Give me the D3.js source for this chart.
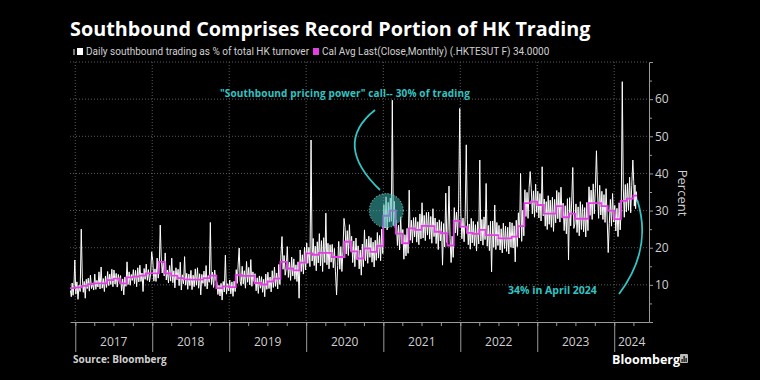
<!DOCTYPE html>
<html>
<head>
<meta charset="utf-8">
<script src="https://cdn.jsdelivr.net/npm/d3@7"></script>
<style>
body { margin: 0; background: #000; }
svg { display: block; }
</style>
</head>
<body>
<div class="svg-div"></div>
<script>
// southbound share of HK turnover
firstMonth = "2016-12"
dataStart = "2016-12-07"
dataEnd = "2024-04-19"

// calendar monthly average (magenta steps), Dec 2016 .. Apr 2024
monthlyAvg = [
    9.1,
    9.3, 9.7, 10.2, 10.4, 10.4, 11.3, 11.7, 10.4, 12.0, 12.2, 12.5, 13.1,
    13.1, 16.2, 13.1, 12.5, 11.8, 11.5, 11.4, 11.4, 11.8, 12.5, 9.1, 9.6,
    9.4, 12.7, 12.4, 12.4, 10.5, 10.1, 10.9, 11.7, 16.2, 14.4, 13.9, 16.0,
    18.5, 18.1, 18.6, 18.6, 17.5, 17.5, 21.6, 19.0, 17.1, 19.8, 18.9, 20.5,
    28.6, 30.0, 23.8, 21.2, 25.2, 24.8, 25.9, 25.8, 24.3, 23.9, 20.6, 27.2,
    25.7, 24.0, 23.7, 24.8, 23.4, 23.4, 22.5, 22.5, 23.0, 25.8, 32.0, 32.4,
    31.5, 29.2, 29.2, 31.2, 28.2, 29.2, 27.8, 27.8, 32.0, 32.0, 31.2, 30.0,
    27.7, 32.6, 33.2, 34.0
]

// daily readings, six per month (white line)
daily = [
    [8.5, 6.8, 10.5, 7.2, 9.8, 16.7],
    // 2017
    [7.5, 10.8, 6.1, 9.9, 8.2, 25.0], [12.1, 8.0, 10.9, 6.4, 11.5, 9.0], [11.8, 8.3, 12.6, 9.0, 10.5, 8.6],
    [12.9, 8.8, 11.2, 9.4, 13.5, 8.9], [14.8, 9.1, 11.7, 8.2, 12.4, 9.3], [13.6, 9.8, 12.9, 10.1, 14.2, 9.5],
    [14.0, 10.2, 13.1, 9.4, 12.8, 10.6], [12.5, 8.4, 11.6, 7.3, 12.1, 9.6], [16.2, 10.1, 13.5, 9.9, 12.8, 11.2],
    [14.1, 10.3, 13.9, 9.5, 14.6, 10.8], [15.3, 10.9, 13.2, 8.2, 14.4, 11.5], [15.6, 11.2, 14.1, 10.8, 12.9, 18.9],
    // 2018
    [16.5, 11.0, 14.3, 10.9, 17.2, 11.8], [14.8, 26.1, 17.5, 13.2, 15.9, 12.4], [18.6, 11.3, 14.0, 10.5, 15.2, 11.0],
    [17.2, 10.6, 13.8, 9.2, 14.6, 11.4], [14.2, 9.8, 16.1, 8.6, 12.7, 10.3], [17.6, 9.9, 13.1, 8.8, 12.9, 9.8],
    [13.9, 8.7, 12.6, 9.5, 14.3, 9.9], [14.6, 9.1, 13.0, 7.3, 12.8, 10.4], [13.7, 9.6, 15.2, 8.9, 12.5, 10.7],
    [26.8, 10.1, 13.4, 9.3, 14.0, 11.2], [10.8, 7.4, 9.9, 7.0, 10.4, 5.9], [10.9, 8.1, 18.0, 7.5, 10.3, 8.4],
    // 2019
    [11.3, 7.6, 10.8, 6.9, 11.0, 8.2], [14.1, 10.4, 15.6, 19.9, 11.0, 9.8], [15.0, 10.2, 13.8, 9.1, 16.3, 10.7],
    [14.7, 10.0, 16.8, 9.6, 13.5, 10.9], [13.0, 8.4, 11.9, 7.7, 12.4, 9.1], [12.2, 8.0, 11.5, 6.8, 12.9, 8.8],
    [13.4, 9.0, 12.1, 8.1, 13.8, 9.3], [14.8, 9.6, 13.2, 8.9, 15.5, 10.1], [18.1, 23.0, 14.2, 17.9, 12.6, 14.5],
    [20.3, 12.0, 16.1, 11.2, 17.5, 12.4], [17.0, 11.5, 15.4, 10.9, 16.2, 6.4], [19.4, 13.6, 18.1, 12.9, 20.2, 14.0],
    // 2020
    [21.3, 15.8, 20.1, 14.9, 49.0, 16.4], [22.5, 15.2, 20.4, 13.8, 21.6, 15.9], [23.8, 15.1, 21.9, 13.6, 22.7, 16.0],
    [29.3, 15.4, 21.2, 14.3, 20.8, 16.1], [20.9, 14.6, 19.8, 13.5, 7.3, 15.2], [21.7, 14.2, 20.3, 13.6, 19.0, 27.9],
    [25.4, 18.3, 24.6, 17.9, 26.2, 19.1], [23.1, 16.0, 21.8, 14.9, 22.6, 16.8], [20.5, 14.3, 19.4, 12.6, 21.0, 14.9],
    [24.8, 16.5, 22.3, 15.8, 23.1, 17.4], [22.7, 16.1, 21.5, 14.8, 22.0, 16.6], [24.1, 17.2, 23.3, 16.5, 25.0, 18.4],
    // 2021
    [31.6, 25.3, 33.7, 24.8, 32.2, 26.9], [33.4, 27.1, 59.7, 26.0, 32.5, 25.4], [27.5, 20.6, 26.1, 19.4, 28.3, 21.0],
    [24.9, 16.9, 23.5, 17.8, 25.2, 18.5], [35.5, 22.0, 27.4, 21.3, 28.1, 22.9], [28.2, 21.5, 27.0, 20.8, 29.1, 22.4],
    [32.1, 22.6, 28.7, 21.9, 29.5, 23.4], [29.6, 22.3, 28.4, 21.2, 30.5, 23.0], [28.0, 21.1, 26.9, 19.5, 27.5, 21.8],
    [27.0, 15.3, 26.5, 20.2, 34.7, 21.4], [24.3, 36.6, 22.5, 16.0, 23.1, 17.4], [30.8, 24.0, 29.6, 23.3, 31.5, 57.5],
    // 2022
    [29.1, 22.4, 28.0, 21.6, 28.5, 47.7], [27.5, 20.8, 26.4, 19.6, 27.9, 21.3], [27.1, 20.5, 26.2, 19.1, 27.0, 21.0],
    [43.6, 21.8, 27.6, 20.7, 28.3, 22.2], [37.3, 20.4, 26.0, 19.2, 27.1, 13.5], [27.2, 20.1, 31.5, 19.5, 26.8, 20.6],
    [26.0, 19.4, 25.1, 18.6, 26.6, 19.8], [25.8, 19.0, 25.5, 18.3, 26.9, 20.1], [26.7, 19.9, 25.9, 16.2, 27.4, 20.3],
    [29.4, 22.6, 40.0, 21.7, 30.1, 23.2], [35.6, 28.4, 34.9, 27.9, 36.2, 40.5], [36.0, 29.1, 35.3, 28.2, 37.1, 29.5],
    // 2023
    [35.2, 28.0, 34.6, 27.2, 41.8, 28.6], [33.1, 25.8, 32.4, 24.9, 34.0, 26.3], [32.8, 25.5, 33.6, 24.4, 33.0, 26.7],
    [35.4, 27.8, 34.9, 26.9, 36.3, 28.1], [32.0, 24.6, 31.3, 23.7, 33.2, 16.7], [33.5, 25.9, 32.8, 41.6, 25.2, 26.4],
    [31.8, 24.1, 31.0, 23.2, 32.4, 24.9], [31.6, 24.3, 30.8, 22.9, 32.2, 24.6], [36.4, 28.7, 35.5, 27.6, 37.2, 29.1],
    [35.9, 46.1, 35.0, 27.9, 36.8, 28.8], [35.2, 27.6, 34.3, 26.8, 35.9, 28.0], [18.7, 26.5, 33.0, 25.8, 34.6, 26.9],
    // 2024
    [31.4, 24.5, 30.6, 23.0, 32.1, 24.8], [30.5, 64.7, 36.1, 28.2, 37.0, 29.6], [37.3, 30.1, 39.0, 29.4, 36.8, 43.6],
    [37.8, 31.2, 36.9, 30.5, 35.1, 32.4]
]

years = [2017, 2018, 2019, 2020, 2021, 2022, 2023, 2024]
yTicks = [10, 20, 30, 40, 50, 60]

titleText = "Southbound Comprises Record Portion of HK Trading"
legendWhite = "Daily southbound trading as % of total HK turnover"
legendMagenta = "Cal Avg Last(Close,Monthly) (.HKTESUT F) 34.0000"
noteTop = "\"Southbound pricing power\" call-- 30% of trading"
noteBottom = "34% in April 2024"

const W = 760, H = 380
const teal = "#33c4c4", magenta = "#e63ee6", axisGray = "#9a9a9a", labelGray = "#d0d0d0"
const parse = d3.timeParse("%Y-%m-%d")
let t0 = parse(dataStart), t1 = parse(dataEnd)

let svg = d3.select(".svg-div").append("svg")
    .attr("width", W).attr("height", H)
    .style("background", "#000")

let x = d3.scaleTime()
    .domain([t0, new Date(2024, 5, 14)])
    .range([70, 649])
let y = d3.scaleLinear()
    .domain([0, 70])
    .range([322, 62])

// build the point lists from the arrays above
let months = d3.timeMonth.range(d3.timeParse("%Y-%m")(firstMonth), d3.timeMonth.offset(d3.timeMonth.floor(t1), 1))
let stepPts = months.map((m, i) => ({ date: m < t0 ? t0 : m, v: monthlyAvg[i] }))
stepPts.push({ date: t1, v: monthlyAvg[monthlyAvg.length - 1] })

let dailyPts = []
months.forEach((m, i) => {
    let a = m < t0 ? t0 : m
    let b = d3.timeMonth.offset(m, 1)
    if (b > t1) b = t1
    daily[i].forEach((v, k) => {
        let f = (k + 0.5) / daily[i].length
        dailyPts.push({ date: new Date(+a + (b - a) * f), v: v })
    })
})

// grid
let grid = svg.append("g").attr("class", "grid")
grid.selectAll("line.h").data(yTicks.concat([70])).join("line")
    .attr("class", "h")
    .attr("x1", 70).attr("x2", 649)
    .attr("y1", d => y(d)).attr("y2", d => y(d))
    .attr("stroke", "#5a5a5a").attr("stroke-dasharray", "1,2")
grid.selectAll("line.v").data(years).join("line")
    .attr("class", "v")
    .attr("x1", d => x(new Date(d, 0, 1))).attr("x2", d => x(new Date(d, 0, 1)))
    .attr("y1", 62).attr("y2", 322)
    .attr("stroke", "#5a5a5a").attr("stroke-dasharray", "1,2")

// x axis: long year separators + quarter ticks
let gx = svg.append("g").attr("transform", "translate(0,322)")
let quarters = d3.timeMonth.every(3).range(new Date(2017, 0, 1), new Date(2024, 6, 1))
gx.call(d3.axisBottom(x).tickValues(quarters).tickSize(4).tickSizeOuter(0).tickFormat(""))
let gxYears = gx.append("g")
gxYears.call(d3.axisBottom(x).tickValues(years.map(d => new Date(d, 0, 1))).tickSize(30).tickSizeOuter(0).tickFormat(""))
gxYears.select(".domain").remove()
gx.selectAll("path, line").attr("stroke", axisGray)
gx.selectAll("text.year").data(years).join("text")
    .attr("class", "year")
    .attr("x", d => {
        let a = x(new Date(d, 0, 1))
        let b = d === 2024 ? x.range()[1] : x(new Date(d + 1, 0, 1))
        return (a + b) / 2
    })
    .attr("y", 24)
    .attr("text-anchor", "middle")
    .attr("fill", labelGray)
    .style("font", "12px 'Open Sans', sans-serif")
    .text(d => d)

// right y axis with minor ticks
let gy = svg.append("g").attr("transform", "translate(649,0)")
gy.call(d3.axisRight(y).tickValues(yTicks).tickSize(4).tickSizeOuter(4).tickPadding(2))
let gyMinor = gy.append("g")
gyMinor.call(d3.axisRight(y).tickValues([5, 15, 25, 35, 45, 55, 65]).tickSize(3).tickFormat(""))
gyMinor.select(".domain").remove()
gy.selectAll("path, line").attr("stroke", axisGray)
gy.selectAll("text").attr("fill", labelGray).style("font", "12px 'Open Sans', sans-serif")
svg.append("text")
    .attr("transform", "translate(678,193) rotate(90)")
    .attr("text-anchor", "middle")
    .attr("fill", labelGray)
    .style("font", "13px 'Open Sans', sans-serif")
    .text("Percent")

// series
let line = d3.line().x(d => x(d.date)).y(d => y(d.v))
svg.append("path").datum(dailyPts)
    .attr("d", line)
    .attr("fill", "none").attr("stroke", "#fff").attr("stroke-width", 1)
    .attr("stroke-linejoin", "round")
svg.append("path").datum(stepPts)
    .attr("d", line.curve(d3.curveStepAfter))
    .attr("fill", "none").attr("stroke", magenta).attr("stroke-width", 1.8)

// annotations
let cx = x(new Date(2021, 0, 15)), cy = y(30)
svg.append("circle").attr("cx", cx).attr("cy", cy).attr("r", 17)
    .attr("fill", "#3bb5b0").attr("fill-opacity", 0.55)
    .attr("stroke", "#8fe3df").attr("stroke-dasharray", "1,2").attr("stroke-width", 1)
svg.append("path")
    .attr("d", "M375,110 Q332,144 380,190")
    .attr("fill", "none").attr("stroke", teal).attr("stroke-width", 1.8)
svg.append("text").attr("x", 220).attr("y", 97)
    .attr("fill", teal).style("font", "bold 10px 'Open Sans', sans-serif")
    .style("letter-spacing", "0.15px")
    .text(noteTop)
let ex = x(t1), ey = y(34)
svg.append("path")
    .attr("d", `M619,294 Q653,249 ${ex},${ey + 4}`)
    .attr("fill", "none").attr("stroke", teal).attr("stroke-width", 1.8)
svg.append("text").attr("x", 508).attr("y", 294)
    .attr("fill", teal).style("font", "bold 10.5px 'Open Sans', sans-serif")
    .text(noteBottom)

// title, legend, footer
svg.append("text").attr("x", 70).attr("y", 36)
    .attr("fill", "#fff").style("font", "bold 19.8px 'Open Sans', sans-serif")
    .text(titleText)
let lg = svg.append("g").attr("transform", "translate(0,55)")
lg.append("rect").attr("x", 73).attr("y", -6).attr("width", 2).attr("height", 6).attr("fill", "#777")
lg.append("rect").attr("x", 77).attr("y", -7).attr("width", 6).attr("height", 7).attr("fill", "#fff")
lg.append("text").attr("x", 86).attr("y", 0).attr("fill", labelGray)
    .style("font", "10px 'Liberation Sans Narrow', 'Roboto', sans-serif").text(legendWhite)
lg.append("rect").attr("x", 313).attr("y", -7).attr("width", 6).attr("height", 7).attr("fill", magenta)
lg.append("text").attr("x", 322).attr("y", 0).attr("fill", labelGray)
    .style("font", "10px 'Liberation Sans Narrow', 'Roboto', sans-serif").text(legendMagenta)

svg.append("text").attr("x", 73).attr("y", 363)
    .attr("fill", labelGray).style("font", "bold 10px 'Open Sans', sans-serif")
    .text("Source: Bloomberg")
svg.append("text").attr("x", 612).attr("y", 364)
    .attr("fill", "#fff").style("font", "bold 12.5px 'Open Sans', sans-serif")
    .text("Bloomberg")
let logo = svg.append("g").attr("transform", "translate(680,354)")
logo.append("rect").attr("width", 8).attr("height", 9).attr("rx", 1).attr("fill", "#bbb")
logo.selectAll("rect.b").data([3, 6, 4]).join("rect")
    .attr("class", "b")
    .attr("x", (d, i) => 1.5 + i * 2).attr("y", d => 8 - d).attr("width", 1.2).attr("height", d => d)
    .attr("fill", "#000")
</script>
</body>
</html>
